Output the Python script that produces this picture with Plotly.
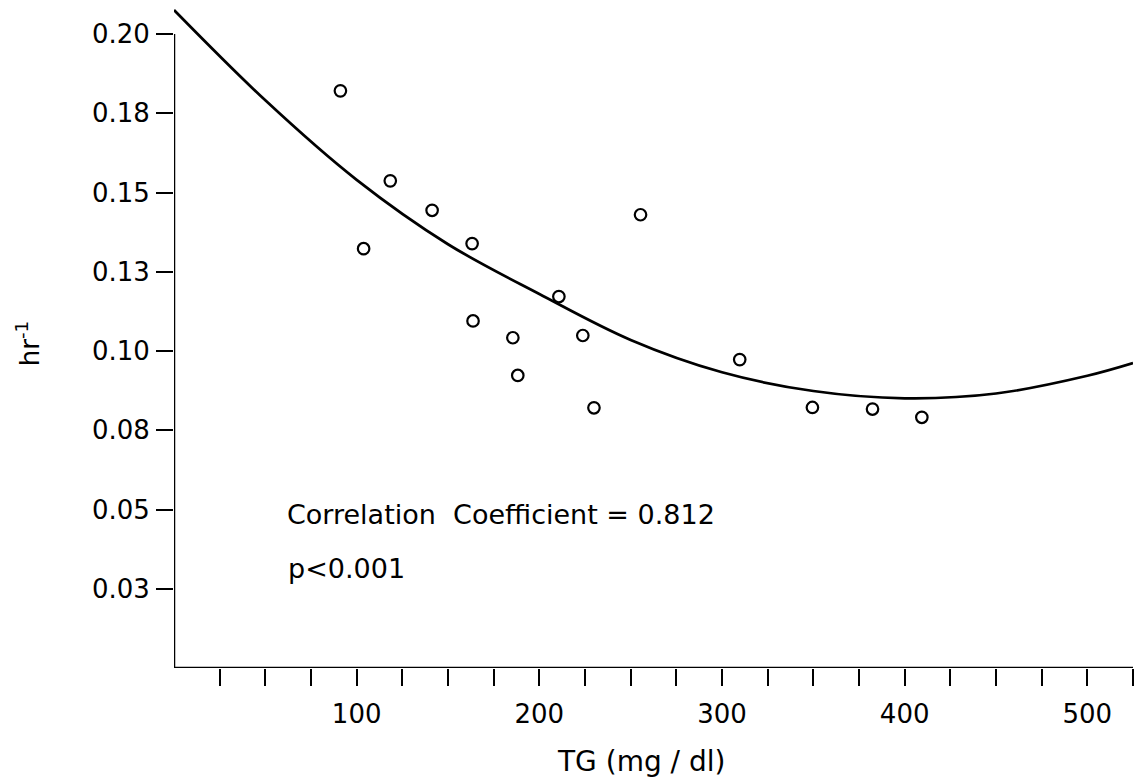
import plotly.graph_objects as go

# Observed data points (TG in mg/dl, rate in hr^-1)
tg_values = [91.1, 103.8, 118.4, 141.3, 163.2, 163.7, 185.5, 188.2, 210.7,
             223.8, 229.9, 255.4, 309.7, 349.5, 382.4, 409.4]
rate_values = [0.1821, 0.1323, 0.1537, 0.1444, 0.1339, 0.1095, 0.1042, 0.0923,
               0.1172, 0.1049, 0.0821, 0.1430, 0.0973, 0.0822, 0.0817, 0.0791]

# Fitted curve
curve_x = [0, 50, 100, 150, 200, 250, 300, 350, 400, 450, 500, 525]
curve_y = [0.2076, 0.1791, 0.1540, 0.1337, 0.1180, 0.1035, 0.0933, 0.0874,
           0.0851, 0.0866, 0.0922, 0.0962]

x_tickvals = [100, 200, 300, 400, 500]
x_ticktext = ["100", "200", "300", "400", "500"]
x_minor_ticks = [25, 50, 75, 125, 150, 175, 225, 250, 275, 325, 350, 375,
                 425, 450, 475, 525]
y_tickvals = [0.025, 0.05, 0.075, 0.10, 0.125, 0.15, 0.175, 0.20]
y_ticktext = ["0.03", "0.05", "0.08", "0.10", "0.13", "0.15", "0.18", "0.20"]

FONT = "DejaVu Sans"

fig = go.Figure()
fig.add_trace(go.Scatter(
    x=curve_x, y=curve_y, mode="lines",
    line=dict(color="black", width=2.7, shape="spline", smoothing=1.0),
    hoverinfo="skip", showlegend=False, cliponaxis=False,
))
fig.add_trace(go.Scatter(
    x=tg_values, y=rate_values, mode="markers",
    marker=dict(symbol="circle-open", size=11.5, color="black",
                line=dict(color="black", width=2.2)),
    showlegend=False,
))

# axis lines (y line stops at 0.20 as in the original)
fig.add_shape(type="line", xref="x", yref="y", x0=0, y0=0, x1=0, y1=0.20,
              line=dict(color="black", width=2.5))
fig.add_shape(type="line", xref="x", yref="y", x0=0, y0=0, x1=525, y1=0,
              line=dict(color="black", width=2.5))

fig.add_annotation(x=60.8, y=0.0485, xref="x", yref="y",
                   text="Correlation\u00a0\u00a0Coefficient = 0.812",
                   showarrow=False, xanchor="left", yanchor="middle",
                   font=dict(family=FONT, size=27, color="black"))
fig.add_annotation(x=61.5, y=0.0315, xref="x", yref="y",
                   text="p<0.001",
                   showarrow=False, xanchor="left", yanchor="middle",
                   font=dict(family=FONT, size=27, color="black"))

# axis titles
fig.add_annotation(x=0.487, y=-0.141, xref="paper", yref="paper",
                   text="TG (mg / dl)", showarrow=False,
                   xanchor="center", yanchor="middle",
                   font=dict(family=FONT, size=28, color="black"))
fig.add_annotation(x=-0.1523, y=0.489, xref="paper", yref="paper",
                   text="hr<sup>-1</sup>", showarrow=False, textangle=-90,
                   xanchor="center", yanchor="middle",
                   font=dict(family=FONT, size=26, color="black"))

fig.update_layout(
    width=1136, height=780,
    margin=dict(l=174, r=3, t=4, b=112),
    paper_bgcolor="white", plot_bgcolor="white",
    font=dict(family=FONT, color="black"),
    xaxis=dict(
        range=[0, 525], showgrid=False, zeroline=False, showline=False,
        automargin=False,
        tickmode="array", tickvals=x_tickvals, ticktext=x_ticktext,
        ticks="outside", ticklen=17, tickwidth=2, tickcolor="black",
        ticklabelstandoff=6,
        minor=dict(tickmode="array", tickvals=x_minor_ticks, ticks="outside",
                   ticklen=17, tickwidth=2, tickcolor="black", showgrid=False),
        tickfont=dict(family=FONT, size=26, color="black"),
    ),
    yaxis=dict(
        range=[0, 0.2095], showgrid=False, zeroline=False, showline=False,
        automargin=False,
        tickmode="array", tickvals=y_tickvals, ticktext=y_ticktext,
        ticks="outside", ticklen=17, tickwidth=2, tickcolor="black",
        ticklabelstandoff=1,
        tickfont=dict(family=FONT, size=26, color="black"),
    ),
)

fig.write_html(
    "out.html",
    config={"displayModeBar": False},
    post_script="document.body.style.margin='0px';document.body.style.overflow='hidden';",
)
